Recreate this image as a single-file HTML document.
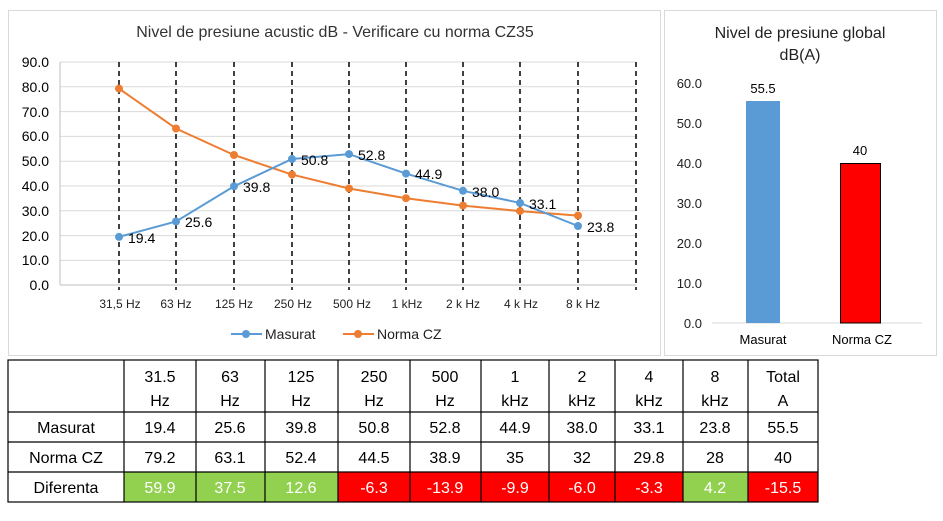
<!DOCTYPE html>
<html><head><meta charset="utf-8"><style>
body{margin:0;background:#fff;width:943px;height:516px;overflow:hidden;font-family:"Liberation Sans",sans-serif}
</style></head><body>
<svg width="943" height="516" xmlns="http://www.w3.org/2000/svg" font-family="Liberation Sans, sans-serif">
<rect x="8.5" y="10.5" width="652" height="345" fill="#fff" stroke="#d9d9d9"/>
<rect x="664.5" y="10.5" width="272" height="345" fill="#fff" stroke="#d9d9d9"/>
<text x="335" y="37" font-size="16" text-anchor="middle" fill="#333">Nivel de presiune acustic dB - Verificare cu norma CZ35</text>
<g stroke="#d9d9d9" stroke-width="1">
<line x1="60" x2="636" y1="62" y2="62"/><line x1="60" x2="636" y1="86.8" y2="86.8"/><line x1="60" x2="636" y1="111.6" y2="111.6"/><line x1="60" x2="636" y1="136.4" y2="136.4"/><line x1="60" x2="636" y1="161.2" y2="161.2"/><line x1="60" x2="636" y1="186" y2="186"/><line x1="60" x2="636" y1="210.8" y2="210.8"/><line x1="60" x2="636" y1="235.6" y2="235.6"/><line x1="60" x2="636" y1="260.4" y2="260.4"/>
</g>
<line x1="60" x2="636" y1="285" y2="285" stroke="#bfbfbf"/>
<line x1="60" x2="60" y1="62" y2="285" stroke="#bfbfbf"/>
<g stroke="#000" stroke-width="1.5" stroke-dasharray="5,4">
<line x1="119" x2="119" y1="62" y2="290"/><line x1="176" x2="176" y1="62" y2="290"/><line x1="234" x2="234" y1="62" y2="290"/><line x1="292" x2="292" y1="62" y2="290"/><line x1="349" x2="349" y1="62" y2="290"/><line x1="406" x2="406" y1="62" y2="290"/><line x1="463" x2="463" y1="62" y2="290"/><line x1="520" x2="520" y1="62" y2="290"/><line x1="578" x2="578" y1="62" y2="290"/><line x1="636" x2="636" y1="62" y2="290"/>
</g>
<g font-size="14" fill="#000" text-anchor="end">
<text x="49" y="67">90.0</text><text x="49" y="92">80.0</text><text x="49" y="117">70.0</text><text x="49" y="141">60.0</text><text x="49" y="166">50.0</text><text x="49" y="191">40.0</text><text x="49" y="216">30.0</text><text x="49" y="241">20.0</text><text x="49" y="265">10.0</text><text x="49" y="290">0.0</text>
</g>
<g font-size="12" fill="#222" text-anchor="middle">
<text x="120" y="308">31,5 Hz</text><text x="176" y="308">63 Hz</text><text x="234" y="308">125 Hz</text><text x="293" y="308">250 Hz</text><text x="352" y="308">500 Hz</text><text x="407" y="308">1 kHz</text><text x="463" y="308">2 k Hz</text><text x="521" y="308">4 k Hz</text><text x="583" y="308">8 k Hz</text>
</g>
<polyline fill="none" stroke="#ed7d31" stroke-width="2" points="119,88.6 176,128.5 234,155 292,174.6 349,188.5 406,198.2 463,205.6 520,211.1 578,215.6"/>
<g fill="#ed7d31"><circle cx="119" cy="88.6" r="4"/><circle cx="176" cy="128.5" r="4"/><circle cx="234" cy="155" r="4"/><circle cx="292" cy="174.6" r="4"/><circle cx="349" cy="188.5" r="4"/><circle cx="406" cy="198.2" r="4"/><circle cx="463" cy="205.6" r="4"/><circle cx="520" cy="211.1" r="4"/><circle cx="578" cy="215.6" r="4"/></g>
<polyline fill="none" stroke="#5b9bd5" stroke-width="2" points="119,236.9 176,221.5 234,186.3 292,159 349,154.1 406,173.6 463,190.8 520,202.9 578,226"/>
<g fill="#5b9bd5"><circle cx="119" cy="236.9" r="4"/><circle cx="176" cy="221.5" r="4"/><circle cx="234" cy="186.3" r="4"/><circle cx="292" cy="159" r="4"/><circle cx="349" cy="154.1" r="4"/><circle cx="406" cy="173.6" r="4"/><circle cx="463" cy="190.8" r="4"/><circle cx="520" cy="202.9" r="4"/><circle cx="578" cy="226" r="4"/></g>
<g font-size="14" fill="#000">
<text x="128" y="243">19.4</text><text x="185" y="227">25.6</text><text x="243" y="192">39.8</text><text x="301" y="165">50.8</text><text x="358" y="160">52.8</text><text x="415" y="179">44.9</text><text x="472" y="197">38.0</text><text x="529" y="209">33.1</text><text x="587" y="232">23.8</text>
</g>
<line x1="231" x2="262" y1="334" y2="334" stroke="#5b9bd5" stroke-width="2"/><circle cx="246" cy="334" r="4" fill="#5b9bd5"/>
<text x="265" y="339" font-size="14" fill="#222">Masurat</text>
<line x1="343" x2="374" y1="334" y2="334" stroke="#ed7d31" stroke-width="2"/><circle cx="358" cy="334" r="4" fill="#ed7d31"/>
<text x="377" y="339" font-size="14" fill="#222">Norma CZ</text>

<text x="800" y="38" font-size="16" text-anchor="middle" fill="#222">Nivel de presiune global</text>
<text x="800" y="60" font-size="16" text-anchor="middle" fill="#222">dB(A)</text>
<g font-size="13" text-anchor="end" fill="#222">
<text x="702" y="88">60.0</text><text x="702" y="128">50.0</text><text x="702" y="168">40.0</text><text x="702" y="208">30.0</text><text x="702" y="248">20.0</text><text x="702" y="288">10.0</text><text x="702" y="328">0.0</text>
</g>
<line x1="712" x2="922" y1="323" y2="323" stroke="#d9d9d9"/>
<rect x="746" y="101" width="34" height="222" fill="#5b9bd5"/>
<rect x="840.5" y="163.5" width="40" height="159.5" fill="#ff0000" stroke="#000"/>
<text x="763" y="93" font-size="13" text-anchor="middle">55.5</text>
<text x="860" y="155" font-size="13" text-anchor="middle">40</text>
<text x="763" y="344" font-size="13" text-anchor="middle">Masurat</text>
<text x="862" y="344" font-size="13" text-anchor="middle">Norma CZ</text>

<g>
<rect x="124" y="472" width="214" height="30" fill="#92d050"/>
<rect x="338" y="472" width="345" height="30" fill="#ff0000"/>
<rect x="683" y="472" width="65" height="30" fill="#92d050"/>
<rect x="748" y="472" width="70" height="30" fill="#ff0000"/>
<g stroke="#000" stroke-width="1.2" fill="none">
<rect x="8" y="360" width="810" height="142"/>
<line x1="8" x2="818" y1="412" y2="412"/><line x1="8" x2="818" y1="442" y2="442"/><line x1="8" x2="818" y1="472" y2="472"/>
<line x1="124" x2="124" y1="360" y2="502"/><line x1="196" x2="196" y1="360" y2="502"/><line x1="265" x2="265" y1="360" y2="502"/><line x1="338" x2="338" y1="360" y2="502"/><line x1="410" x2="410" y1="360" y2="502"/><line x1="481" x2="481" y1="360" y2="502"/><line x1="549" x2="549" y1="360" y2="502"/><line x1="615" x2="615" y1="360" y2="502"/><line x1="683" x2="683" y1="360" y2="502"/><line x1="748" x2="748" y1="360" y2="502"/>
</g>
<g font-size="16" text-anchor="middle" fill="#000">
<text x="160" y="382">31.5</text><text x="160" y="406">Hz</text>
<text x="230" y="382">63</text><text x="230" y="406">Hz</text>
<text x="301" y="382">125</text><text x="301" y="406">Hz</text>
<text x="374" y="382">250</text><text x="374" y="406">Hz</text>
<text x="445" y="382">500</text><text x="445" y="406">Hz</text>
<text x="515" y="382">1</text><text x="515" y="406">kHz</text>
<text x="582" y="382">2</text><text x="582" y="406">kHz</text>
<text x="649" y="382">4</text><text x="649" y="406">kHz</text>
<text x="715" y="382">8</text><text x="715" y="406">kHz</text>
<text x="783" y="382">Total</text><text x="783" y="406">A</text>
<text x="66" y="433">Masurat</text>
<text x="160" y="433">19.4</text><text x="230" y="433">25.6</text><text x="301" y="433">39.8</text><text x="374" y="433">50.8</text><text x="445" y="433">52.8</text><text x="515" y="433">44.9</text><text x="582" y="433">38.0</text><text x="649" y="433">33.1</text><text x="715" y="433">23.8</text><text x="783" y="433">55.5</text>
<text x="66" y="463">Norma CZ</text>
<text x="160" y="463">79.2</text><text x="230" y="463">63.1</text><text x="301" y="463">52.4</text><text x="374" y="463">44.5</text><text x="445" y="463">38.9</text><text x="515" y="463">35</text><text x="582" y="463">32</text><text x="649" y="463">29.8</text><text x="715" y="463">28</text><text x="783" y="463">40</text>
<text x="66" y="493">Diferenta</text>
</g>
<g font-size="16" text-anchor="middle" fill="#fff">
<text x="160" y="493">59.9</text><text x="230" y="493">37.5</text><text x="301" y="493">12.6</text><text x="374" y="493">-6.3</text><text x="445" y="493">-13.9</text><text x="515" y="493">-9.9</text><text x="582" y="493">-6.0</text><text x="649" y="493">-3.3</text><text x="715" y="493">4.2</text><text x="783" y="493">-15.5</text>
</g>
</g>
</svg>
</body></html>
